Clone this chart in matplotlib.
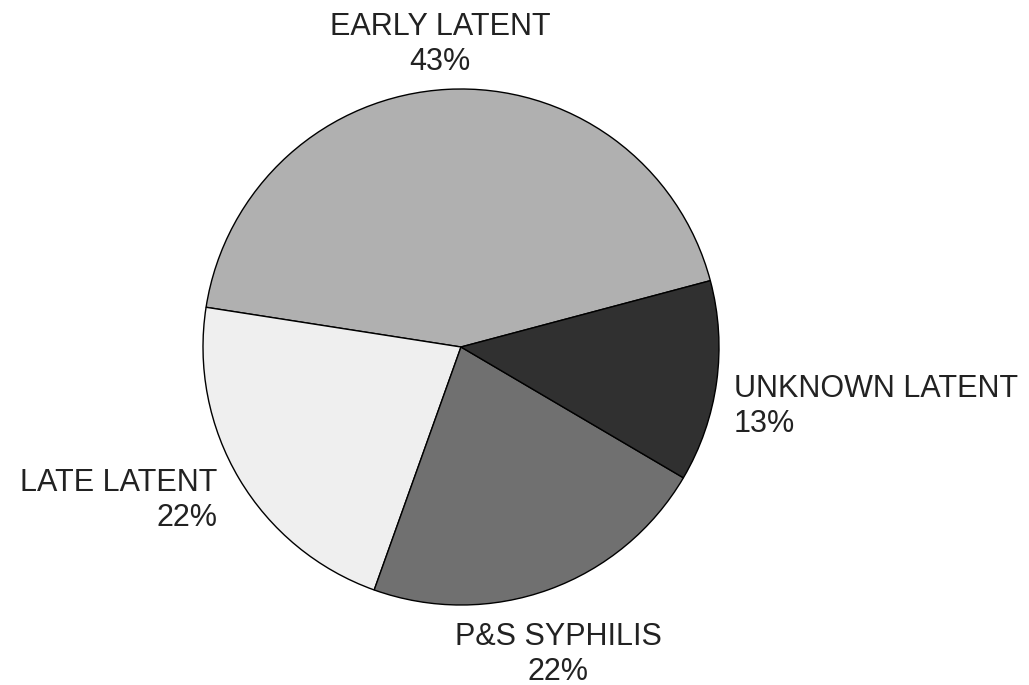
import matplotlib
matplotlib.use("Agg")
import matplotlib.pyplot as plt

# Stage shares (%), counter-clockwise starting at the upper right boundary
categories = ["EARLY LATENT", "LATE LATENT", "P&S SYPHILIS", "UNKNOWN LATENT"]
shares = [43.4, 22.0, 22.0, 12.6]
shown_pct = ["43%", "22%", "22%", "13%"]
colors = ["#b0b0b0", "#efefef", "#707070", "#303030"]

plt.rcParams["font.family"] = ["Liberation Sans", "DejaVu Sans"]

fig = plt.figure(figsize=(10.29, 6.85), dpi=100)
ax = fig.add_axes([0, 0, 1, 1])

ax.pie(
    shares,
    colors=colors,
    startangle=14.9,
    counterclock=True,
    wedgeprops=dict(edgecolor="black", linewidth=1.0),
)

# pie center at (461, 347) px, radius 258 px
cx, cy, r = 461, 347, 258
ax.set_aspect("auto")
ax.set_xlim(-cx / r, (1029 - cx) / r)
ax.set_ylim((cy - 685) / r, cy / r)
ax.axis("off")


def px(x, y):
    return (x - cx) / r, (cy - y) / r


# label anchors (pixel positions of text box top)
label_pos = [
    (440, 12, "center"),
    (217, 468, "right"),
    (558, 622, "center"),
    (734, 374, "left"),
]

for name, pct, (x, y, ha) in zip(categories, shown_pct, label_pos):
    tx, ty = px(x, y)
    ax.text(tx, ty, name + "\n" + pct, ha=ha, va="top", multialignment=ha,
            fontsize=22, color="#222222", linespacing=1.2)

fig.savefig("out.png", dpi=100)
